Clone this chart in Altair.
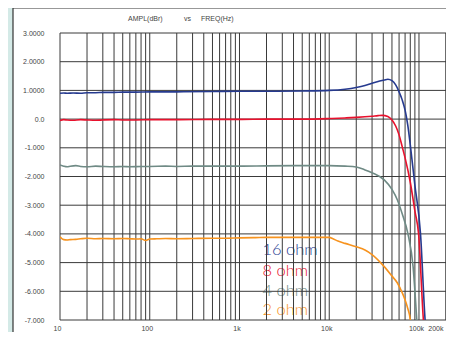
import altair as alt
import pandas as pd

# ---------------- data ----------------
series_names = ["16 ohm", "8 ohm", "4 ohm", "2 ohm"]
series_colors = ["#263a8f", "#e8112d", "#6f8a85", "#f7931e"]

f16 = [10, 11, 12, 14, 17, 20, 25, 30, 40, 50, 70, 100, 200, 500, 1000, 2000, 5000, 10000,
       15000, 20000, 25000, 30000, 35000, 41000, 45000, 50000, 55000, 60000, 65000, 70000,
       75000, 80000, 90000, 104000, 117000, 125000]
v16 = [0.90, 0.91, 0.90, 0.91, 0.90, 0.92, 0.92, 0.93, 0.93, 0.94, 0.94, 0.95, 0.95, 0.96,
       0.97, 0.97, 0.98, 1.00, 1.04, 1.10, 1.17, 1.25, 1.31, 1.36, 1.39, 1.34, 1.19, 0.95,
       0.67, 0.31, -0.21, -0.90, -2.30, -4.00, -7.00, -8.00]

f8 = [10, 11, 12, 14, 17, 20, 25, 30, 40, 50, 70, 100, 200, 500, 1000, 2000, 5000, 10000,
      15000, 20000, 25000, 30000, 35000, 39000, 45000, 50000, 55000, 60000, 65000, 70000,
      80000, 90000, 99000, 112000, 120000]
v8 = [-0.05, -0.02, -0.03, -0.04, -0.02, -0.03, -0.04, -0.03, -0.02, -0.03, -0.03, -0.02,
      -0.02, -0.01, -0.01, 0.00, 0.00, 0.02, 0.04, 0.06, 0.08, 0.10, 0.12, 0.13, 0.09, -0.03,
      -0.24, -0.55, -0.96, -1.35, -2.20, -3.20, -4.00, -7.00, -8.00]

f4 = [10, 11, 12, 13, 15, 17, 20, 25, 30, 40, 50, 60, 80, 100, 150, 200, 300, 500, 1000,
      2000, 5000, 10000, 15000, 20000, 25000, 30000, 41000, 50000, 57500, 65000, 75000,
      86000, 94500, 100000]
v4 = [-1.60, -1.64, -1.66, -1.64, -1.62, -1.65, -1.66, -1.64, -1.65, -1.66, -1.65, -1.66,
      -1.65, -1.65, -1.64, -1.65, -1.64, -1.64, -1.64, -1.63, -1.62, -1.62, -1.64, -1.67,
      -1.77, -1.87, -2.12, -2.45, -2.82, -3.30, -3.97, -5.15, -7.00, -8.20]

f2 = [10, 11, 12, 13, 15, 17, 20, 25, 30, 40, 50, 60, 70, 80, 90, 100, 120, 150, 200, 300,
      500, 700, 1000, 1500, 2000, 5000, 10000, 11000, 12500, 15000, 20000, 25000, 30000,
      41000, 50000, 57500, 65000, 70000, 75000, 80000, 82000]
v2 = [-4.10, -4.20, -4.21, -4.20, -4.19, -4.17, -4.15, -4.17, -4.16, -4.17, -4.16, -4.17,
      -4.18, -4.17, -4.23, -4.18, -4.17, -4.16, -4.17, -4.16, -4.15, -4.15, -4.14, -4.13,
      -4.12, -4.12, -4.12, -4.17, -4.25, -4.33, -4.45, -4.56, -4.72, -5.14, -5.47, -5.71,
      -6.05, -6.30, -6.60, -7.00, -7.50]

# in-plot legend labels (position in data units)
legend_freq = [1800, 1800, 1800, 1800]
legend_y = [-4.75, -5.47, -6.17, -6.83]

xtick_vals = [10, 100, 1000, 10000, 100000, 200000]
xtick_labels = ["10", "100", "1k", "10k", "100k", "200k"]
xgrid_vals = [m * 10 ** e for e in range(1, 6) for m in range(1, 10)] + [200000]

ytick_vals = [3, 2, 1, 0, -1, -2, -3, -4, -5, -6, -7]
ytick_labels = ["3.0000", "2.0000", "1.0000", "0.0", "-1.000", "-2.000", "-3.000",
                "-4.000", "-5.000", "-6.000", "-7.000"]

title_parts = ["AMPL(dBr)", "vs", "FREQ(Hz)"]

# ---------------- tables ----------------
rows = []
for name, fs, vs in zip(series_names, [f16, f8, f4, f2], [v16, v8, v4, v2]):
    for f, v in zip(fs, vs):
        rows.append({"series": name, "freq": f, "amp": v})
df = pd.DataFrame(rows)
df_leg = pd.DataFrame({"series": series_names, "freq": legend_freq, "amp": legend_y})
df_vg = pd.DataFrame({"freq": xgrid_vals})
df_hg = pd.DataFrame({"amp": ytick_vals})
one = pd.DataFrame({"a": [0]})

W, H = 386, 287
FONT = "Liberation Sans"
LBL = "#444444"
GRID = "#3a3a3a"

xexpr = "".join(
    f"abs(datum.value - {v}) < {v * 0.01} ? '{l}' : " for v, l in zip(xtick_vals, xtick_labels)
) + "''"
yexpr = "".join(
    f"round(datum.value) == {v} ? '{l}' : " for v, l in zip(ytick_vals, ytick_labels)
) + "''"

xscale = alt.Scale(type="log", domain=[10, 200000], nice=False)
yscale = alt.Scale(domain=[-7, 3], nice=False, zero=False)
xaxis = alt.Axis(values=xtick_vals, labelExpr=xexpr, grid=False, ticks=False, domain=False,
                 labelPadding=7, translate=-2.5, labelFontSize=7, labelColor=LBL,
                 labelAlign={"condition": {"test": "datum.value > 150000", "value": "right"},
                             "value": "center"},
                 labelFont=FONT, title=None, labelFlush=False, labelOverlap=False)
yaxis = alt.Axis(values=ytick_vals, labelExpr=yexpr, grid=False, ticks=False, domain=False,
                 labelPadding=16, labelFontSize=7, labelColor=LBL, labelFont=FONT, title=None,
                 labelFlush=False, labelOverlap=False)

color = alt.Color("series:N", scale=alt.Scale(domain=series_names, range=series_colors),
                  legend=None)

# frame decorations
strip = alt.Chart(one).mark_rect(color="#d4eae7").encode(
    x=alt.value(-52), x2=alt.value(-47), y=alt.value(-25), y2=alt.value(H + 14))
border_v = alt.Chart(one).mark_rule(color="#333333", strokeWidth=1.2).encode(
    x=alt.value(-47), y=alt.value(-25), y2=alt.value(H + 14))
border_h = alt.Chart(one).mark_rule(color="#333333", strokeWidth=1.2).encode(
    y=alt.value(-25), x=alt.value(-47), x2=alt.value(W + 6))

title_x = [68, 124, 141]
titles = alt.layer(*[
    alt.Chart(one).mark_text(text=t, align="left", baseline="middle", fontSize=7,
                             font=FONT, color=LBL).encode(x=alt.value(px), y=alt.value(-14))
    for t, px in zip(title_parts, title_x)
])

labels = alt.Chart(df_leg).mark_text(align="left", baseline="alphabetic", fontSize=16.5,
                                     font="Lato", fontWeight=300).encode(
    x=alt.X("freq:Q", scale=xscale, axis=xaxis),
    y=alt.Y("amp:Q", scale=yscale, axis=yaxis),
    text="series:N",
    color=color,
)

vgrid = alt.Chart(df_vg).mark_rule(color=GRID, strokeWidth=1).encode(
    x=alt.X("freq:Q", scale=xscale, axis=xaxis), y=alt.value(0), y2=alt.value(H))
hgrid = alt.Chart(df_hg).mark_rule(color=GRID, strokeWidth=1).encode(
    y=alt.Y("amp:Q", scale=yscale, axis=yaxis), x=alt.value(0), x2=alt.value(W))

lines = alt.Chart(df).mark_line(strokeWidth=1.6, clip=True, interpolate="monotone").encode(
    x=alt.X("freq:Q", scale=xscale, axis=xaxis),
    y=alt.Y("amp:Q", scale=yscale, axis=yaxis),
    color=color,
    detail="series:N",
)

chart = alt.layer(strip, border_v, border_h, titles, labels, vgrid, hgrid, lines).properties(
    width=W, height=H,
    padding={"left": 52, "top": 25, "right": 0, "bottom": 12},
    autosize=alt.AutoSizeParams(type="none"),
    background="white",
).configure_view(stroke=None)

chart.save("out.html", embed_options={"renderer": "svg", "actions": False})
